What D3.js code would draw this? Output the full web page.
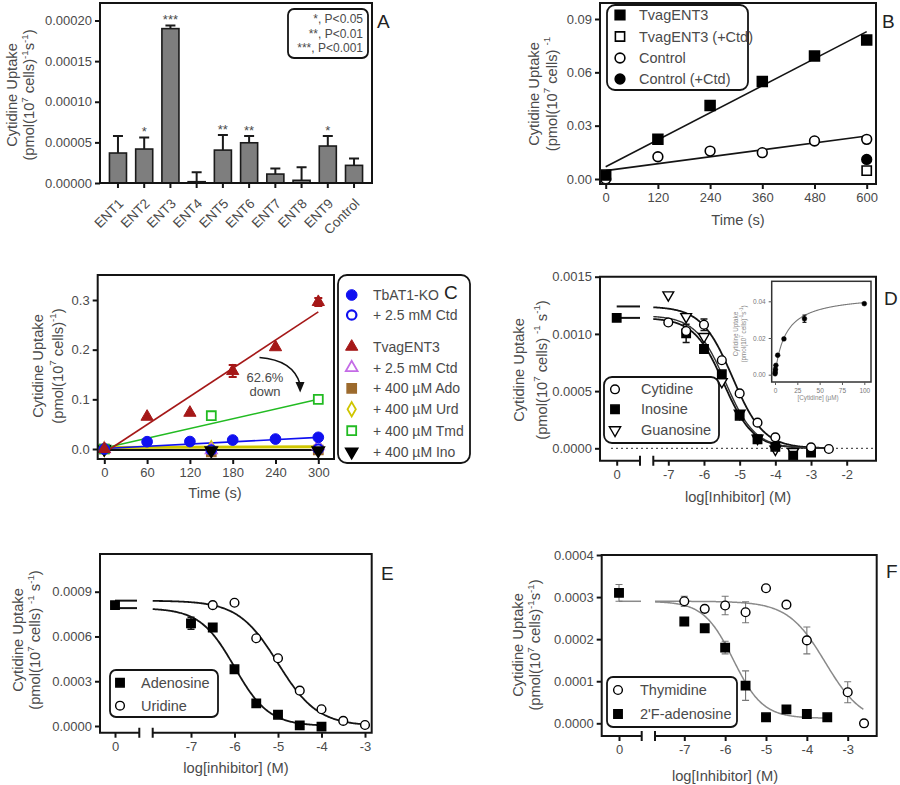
<!DOCTYPE html>
<html><head><meta charset="utf-8">
<script src="https://cdn.jsdelivr.net/npm/d3@7"></script>
<style>body{margin:0;background:#fff}</style>
</head><body>
<script>
// ================= DATA =================
// Panel A
const aCategories = ["ENT1","ENT2","ENT3","ENT4","ENT5","ENT6","ENT7","ENT8","ENT9","Control"];
const aValues = [0.0000369,0.0000418,0.000190,0.0000016,0.0000405,0.0000495,0.0000110,0.0000033,0.0000455,0.0000217];
const aErrors = [0.0000208,0.0000143,0.0000040,0.0000115,0.0000185,0.0000082,0.0000070,0.0000160,0.0000122,0.0000086];
const aStars = ["","*","***","","**","**","","","*",""];
const aYTicks = [0,0.00005,0.0001,0.00015,0.0002];
const aLegend = ["*, P<0.05","**, P<0.01","***, P<0.001"];

// Panel B
const bTime = [0,120,240,360,480,600];
const bTvag = [0.0022,0.0223,0.0414,0.0548,0.0692,0.0782];
const bControl = [0.0000,0.0125,0.0157,0.0148,0.0214,0.0223];
const bControlErr = [0,0,0,0,0.0015,0];
const bCtdTime = [600];
const bTvagCtd = [0.0047];
const bControlCtd = [0.0110];
const bFitTime = [0,600];
const bTvagFit = [0.0069,0.0829];
const bControlFit = [0.0047,0.0242];
const bXTicks = [0,120,240,360,480,600];
const bYTicks = [0,0.03,0.06,0.09];
const bLegend = ["TvagENT3","TvagENT3 (+Ctd)","Control","Control (+Ctd)"];

// Panel C
const cTime = [0,60,120,180,240,300];
const cTbAT1 = [0.0000,0.0147,0.0150,0.0180,0.0200,0.0235];
const cTvag = [0.0000,0.0650,0.0730,0.1570,0.2050,0.2960];
const cTvagErr = [0,0,0,0.0120,0,0.0080];
const cInhTime = [0,150,300];
const cTbCtd = [0.0000,-0.0020,0.0000];
const cTvagCtd = [0.0000,-0.0020,0.0060];
const cAdo = [0.0000,-0.0060,-0.0020];
const cUrd = [0.0000,0.0020,0.0050];
const cTmd = [0.0000,0.0670,0.1000];
const cIno = [0.0000,-0.0030,-0.0030];
const cFitTime = [0,300];
const cTvagFitTime = [8,300];
const cTbAT1Fit = [0.0010,0.0235];
const cTvagFit = [0.0000,0.2760];
const cTmdFit = [0.0020,0.1000];
const cUrdFit = [0.0030,0.0045];
const cInoFit = [-0.0020,-0.0020];
const cXTicks = [0,60,120,180,240,300];
const cYTicks = [0,0.1,0.2,0.3];
const cLegend = ["TbAT1-KO","+ 2.5 mM Ctd","TvagENT3","+ 2.5 mM Ctd","+ 400 \u00b5M Ado","+ 400 \u00b5M Urd","+ 400 \u00b5M Tmd","+ 400 \u00b5M Ino"];

// Panel D  (x = log[Inhibitor]; 0 = no inhibitor)
const dCytX = [-7,-6.5,-6,-5.5,-5,-4.5,-4,-3,-2.5];
const dCyt = [0.00110,0.001025,0.00108,0.00077,0.00048,0.000224,0.000096,0.0000087,-0.000006];
const dCytErr = [0,0,0.00005,0,0,0,0,0,0];
const dInoX = [0,-6.5,-6,-5.5,-5,-4.5,-4,-3.5,-3];
const dIno = [0.00114,0.001005,0.000868,0.000647,0.000285,0.0000787,0.000014,-0.0000647,-0.000038];
const dInoErr = [0.00003,0.00008,0,0,0,0,0,0,0];
const dGuaX = [-7,-6.5,-6,-5.5,-5,-4.5,-4,-3.5];
const dGua = [0.00134,0.00115,0.000976,0.000582,0.000306,0.0000874,-0.0000087,-0.00003];
const dCytFit = [0.00124,0,-5.2,1.0];   // top, bottom, logIC50, hill
const dInoFit = [0.00114,0,-5.45,1.05];
const dGuaFit = [0.00116,0,-5.40,1.05];
const dXTicks = [-7,-6,-5,-4,-3,-2];
const dYTicks = [0,0.0005,0.001,0.0015];
const dLegend = ["Cytidine","Inosine","Guanosine"];
const dInsetConc = [0.1,0.3,0.5,1,3,10,33,100];
const dInsetRate = [0.0005,0.0015,0.0030,0.0051,0.0106,0.0195,0.0305,0.0387];
const dInsetErr = [0,0,0,0,0,0,0.0020,0];
const dInsetFit = [0.044,12]; // Vmax, Km
const dInsetXTicks = [0,25,50,75,100];
const dInsetYTicks = [0,0.02,0.04];

// Panel E
const eAdoX = [0,-7,-6.5,-6,-5.5,-5,-4.5,-4];
const eAdo = [0.00081,0.000688,0.00066,0.00038,0.000152,0.0000757,0.0000045,-0.0000045];
const eAdoErr = [0.00002,0.00004,0.00002,0,0,0,0,0];
const eUriX = [-6.5,-6,-5.5,-5,-4.5,-4,-3.5,-3];
const eUri = [0.00081,0.000826,0.000588,0.000454,0.000237,0.000112,0.000034,0.0000067];
const eAdoFit = [0.00079,0,-6.0,1.1];
const eUriFit = [0.00084,0,-5.0,0.95];
const eXTicks = [-7,-6,-5,-4,-3];
const eYTicks = [0,0.0003,0.0006,0.0009];
const eLegend = ["Adenosine","Uridine"];

// Panel F
const fThyX = [-7,-6.5,-6,-5.5,-5,-4.5,-4,-3,-2.6];
const fThy = [0.00029,0.000272,0.00028,0.000264,0.000321,0.000282,0.000197,0.0000738,0.0];
const fThyErr = [0.000012,0,0.000022,0.000025,0,0,0.000032,0.000025,0];
const fFAdoX = [0,-7,-6.5,-6,-5.5,-5,-4.5,-4,-3.5];
const fFAdo = [0.00031,0.000242,0.000226,0.00018,0.0000895,0.0000143,0.000033,0.000022,0.0000143];
const fFAdoErr = [0.00002,0.000008,0,0.000015,0.000035,0,0.000008,0,0];
const fThyFit = [0.00029,0,-3.55,0.95];
const fFAdoFit = [0.00029,0.000012,-5.8,1.2];
const fXTicks = [-7,-6,-5,-4,-3];
const fYTicks = [0,0.0001,0.0002,0.0003,0.0004];
const fLegend = ["Thymidine","2'F-adenosine"];

// ================= DRAWING =================
const FONT = "Arial, 'Liberation Sans', Helvetica, sans-serif";
const TXT = "#4a4a4a";
const LN = "#141414";
const svg = d3.select("body").append("svg").attr("width",900).attr("height",785)
  .attr("font-family",FONT);

function txt(x,y,s,o={}){
  return svg.append("text").attr("x",x).attr("y",y).text(s)
    .attr("font-size",o.size||13).attr("fill",o.fill||TXT)
    .attr("text-anchor",o.anchor||"start");
}
function styleAxis(g,fs){
  g.select(".domain").remove();
  g.attr("font-family",FONT).attr("font-size",fs);
  g.selectAll(".tick line").attr("stroke",LN).attr("stroke-width",2);
  g.selectAll(".tick text").attr("fill",TXT);
  return g;
}
const fmtPlain = d => String(d);
function yAxis(scale,x,ticks,fmt,fs=13,ts=5){
  return styleAxis(svg.append("g").attr("transform",`translate(${x},0)`)
    .call(d3.axisLeft(scale).tickValues(ticks).tickFormat(fmt).tickSize(ts).tickPadding(3)),fs);
}
function xAxis(scale,y,ticks,fmt,fs=13,ts=5){
  return styleAxis(svg.append("g").attr("transform",`translate(0,${y})`)
    .call(d3.axisBottom(scale).tickValues(ticks).tickFormat(fmt).tickSize(ts).tickPadding(4)),fs);
}
function box(x0,y0,x1,y1,sw=2){
  svg.append("rect").attr("x",x0).attr("y",y0).attr("width",x1-x0).attr("height",y1-y0)
    .attr("fill","none").attr("stroke",LN).attr("stroke-width",sw);
}
function brokenFrame(x0,y0,x1,y1,b1,b2){
  svg.append("path").attr("d",`M${b1},${y1}H${x0}V${y0}H${x1}V${y1}H${b2}`)
    .attr("fill","none").attr("stroke",LN).attr("stroke-width",2);
  svg.append("path").attr("d",`M${b1},${y1-5}V${y1+5}M${b2},${y1-5}V${y1+5}`)
    .attr("stroke",LN).attr("stroke-width",2);
}
function legendBox(x0,y0,x1,y1,r=7){
  svg.append("rect").attr("x",x0).attr("y",y0).attr("width",x1-x0).attr("height",y1-y0)
    .attr("rx",r).attr("fill","#fff").attr("stroke",LN).attr("stroke-width",1.8);
}
function ylabel(x1,x2,cy,parts,fs=14.7){
  svg.append("text").attr("transform",`translate(${x1+0.35*fs},${cy}) rotate(-90)`)
    .attr("text-anchor","middle").attr("font-size",fs).attr("fill",TXT).text("Cytidine Uptake");
  const t = svg.append("text").attr("transform",`translate(${x2+0.35*fs},${cy}) rotate(-90)`)
    .attr("text-anchor","middle").attr("font-size",fs).attr("fill",TXT);
  let prevSup=false;
  parts.forEach(([s,sup])=>{
    const sp = t.append("tspan").text(s).attr("font-size",sup?fs*0.66:fs);
    if(sup && !prevSup) sp.attr("dy",-0.42*fs);
    if(!sup && prevSup) sp.attr("dy",0.42*fs);
    prevSup=sup;
  });
}
const SYM = {sq:d3.symbolSquare, ci:d3.symbolCircle, tri:d3.symbolTriangle, dia:d3.symbolDiamond};
function sym(g,type,x,y,o={}){
  g.append("path").attr("d",d3.symbol().type(SYM[type]).size(o.size||80)())
    .attr("transform",`translate(${x},${y}) rotate(${o.rot||0})`)
    .attr("fill",o.fill===undefined?"#000":o.fill).attr("stroke",o.stroke||"#000")
    .attr("stroke-width",o.sw===undefined?1.5:o.sw);
}
function series(g,xs,ys,xf,yf,type,o){ xs.forEach((v,i)=>sym(g,type,xf(v),yf(ys[i]),o)); }
function errs(g,xs,ys,es,xf,yf,color,cap=4,sw=1.5){
  xs.forEach((v,i)=>{
    if(!es[i]) return;
    const cx=xf(v), a=yf(ys[i]-es[i]), b=yf(ys[i]+es[i]);
    g.append("path").attr("d",`M${cx},${a}V${b}M${cx-cap},${a}H${cx+cap}M${cx-cap},${b}H${cx+cap}`)
      .attr("stroke",color).attr("stroke-width",sw).attr("fill","none");
  });
}
function seg(g,xs,ys,xf,yf,color,sw){
  g.append("path").attr("d",d3.line().x(d=>xf(d[0])).y(d=>yf(d[1]))(xs.map((v,i)=>[v,ys[i]])))
    .attr("fill","none").attr("stroke",color).attr("stroke-width",sw);
}
const hill = (p,x) => p[1] + (p[0]-p[1])/(1+Math.pow(10,(x-p[2])*p[3]));
function curve(g,p,x0,x1,xf,yf,color,sw){
  const xs = d3.range(x0,x1+1e-9,0.02);
  g.append("path").attr("d",d3.line().x(d=>xf(d)).y(d=>yf(hill(p,d)))(xs))
    .attr("fill","none").attr("stroke",color).attr("stroke-width",sw);
}
function legend(x0,y0,x1,y1,r,mx,tx,ys,labels,marks,fs){
  legendBox(x0,y0,x1,y1,r);
  const lg = svg.append("g");
  labels.forEach((s,i)=>{ sym(lg,marks[i][0],mx,ys[i],marks[i][1]); txt(tx,ys[i]+5,s,{size:fs}); });
}
function letter(x,y,s){ txt(x,y,s,{size:19,fill:"#222"}); }

// ---------- Panel A ----------
(function(){
  const g = svg.append("g");
  const x = d3.scaleBand().domain(aCategories).range([100,372]).paddingInner(0.35).paddingOuter(0.36);
  const y = d3.scaleLinear().domain([0,0.0002]).range([183,20.5]);
  g.selectAll("rect").data(aCategories).join("rect")
    .attr("x",d=>x(d)).attr("y",(d,i)=>y(aValues[i])).attr("width",x.bandwidth())
    .attr("height",(d,i)=>y(0)-y(aValues[i]))
    .attr("fill","#7e7e7e").attr("stroke","#1a1a1a").attr("stroke-width",1.6);
  aCategories.forEach((c,i)=>{
    const cx = x(c)+x.bandwidth()/2, yt = y(aValues[i]+aErrors[i]);
    g.append("path").attr("d",`M${cx},${y(aValues[i])}V${yt}M${cx-5},${yt}H${cx+5}`)
      .attr("stroke","#1a1a1a").attr("stroke-width",2).attr("fill","none");
    if(aStars[i]) txt(cx,yt-1,aStars[i],{anchor:"middle",size:13});
  });
  box(100,3,372,183);
  yAxis(y,100,aYTicks,d3.format(".5f"));
  const xa = styleAxis(svg.append("g").attr("transform","translate(0,183)")
    .call(d3.axisBottom(x).tickSize(5)),13.5);
  xa.selectAll(".tick text").attr("y",0).attr("dy","0.35em").attr("text-anchor","end")
    .attr("transform","translate(3,18) rotate(-45)");
  ylabel(12,29,95,[["(pmol(10",0],["7",1],[" cells)",0],["-1",1],["s",0],["-1",1],[")",0]]);
  legendBox(288,9,368,58,6);
  aLegend.forEach((s,i)=>txt(363,23+i*14.5,s,{anchor:"end",size:12}));
  letter(377,28,"A");
})();

// ---------- Panel B ----------
(function(){
  const g = svg.append("g");
  const x = d3.scaleLinear().domain([0,600]).range([605.7,866.7]);
  const y = d3.scaleLinear().domain([0,0.09]).range([179,19]);
  box(600,3,876,184);
  yAxis(y,600,bYTicks,d3.format(".2f"));
  xAxis(x,184,bXTicks,fmtPlain);
  seg(g,bFitTime,bTvagFit,x,y,LN,1.6);
  seg(g,bFitTime,bControlFit,x,y,LN,1.6);
  errs(g,bTime,bControl,bControlErr,x,y,LN,4,1.5);
  series(g,bTime,bControl,x,y,"ci",{size:75,fill:"#fff",sw:1.6});
  series(g,bTime,bTvag,x,y,"sq",{size:100});
  series(g,bCtdTime,bTvagCtd,x,y,"sq",{size:85,fill:"#fff",sw:1.6});
  series(g,bCtdTime,bControlCtd,x,y,"ci",{size:75});
  legend(607,5,748,90,8,620,639,[15,36.5,58,79],bLegend,
    [["sq",{size:95}],["sq",{size:85,fill:"#fff",sw:1.6}],["ci",{size:75,fill:"#fff",sw:1.6}],["ci",{size:75}]],14.5);
  ylabel(533.5,551.5,94,[["(pmol(10",0],["7",1],[" cells) ",0],["-1",1]]);
  txt(738,225,"Time (s)",{anchor:"middle",size:14.7});
  letter(882,28,"B");
})();

// ---------- Panel C ----------
(function(){
  const g = svg.append("g");
  const x = d3.scaleLinear().domain([0,300]).range([104.3,318.3]);
  const y = d3.scaleLinear().domain([0,0.3]).range([449,300]);
  const BLUE="#1010f0", RED="#a51818", PURP="#c46be6", BROWN="#9c6a2c", YEL="#cfc600", GREEN="#22bb22";
  box(97.7,275,334,459);
  yAxis(y,97.7,cYTicks,d3.format(".1f"));
  xAxis(x,459,cXTicks,fmtPlain);
  seg(g,cFitTime,cUrdFit,x,y,YEL,3);
  seg(g,cFitTime,cInoFit,x,y,"#111",2.2);
  seg(g,cFitTime,cTbAT1Fit,x,y,BLUE,1.6);
  seg(g,cFitTime,cTmdFit,x,y,GREEN,1.6);
  seg(g,cTvagFitTime,cTvagFit,x,y,RED,1.6);
  series(g,cInhTime,cAdo,x,y,"sq",{size:85,fill:BROWN,stroke:BROWN});
  series(g,cInhTime,cUrd,x,y,"dia",{size:55,fill:"#fff",stroke:YEL,sw:1.8});
  series(g,cInhTime,cTvagCtd,x,y,"tri",{size:55,fill:"#fff",stroke:PURP,sw:1.8});
  series(g,cInhTime,cTbCtd,x,y,"ci",{size:70,fill:"#fff",stroke:BLUE,sw:2.2});
  series(g,cInhTime,cIno,x,y,"tri",{size:65,rot:180});
  series(g,cInhTime,cTmd,x,y,"sq",{size:80,fill:"#fff",stroke:GREEN,sw:1.8});
  series(g,cTime,cTbAT1,x,y,"ci",{size:90,fill:BLUE,stroke:BLUE,sw:1});
  errs(g,cTime,cTvag,cTvagErr,x,y,RED,4,2);
  series(g,cTime,cTvag,x,y,"tri",{size:65,fill:RED,stroke:RED,sw:1});
  // arrow annotation
  g.append("path").attr("d","M259.5,357.5 Q293,360 300,384").attr("fill","none").attr("stroke","#111").attr("stroke-width",1.6);
  g.append("path").attr("d","M295.5,382 L304.5,382 L300.2,392.5 Z").attr("fill","#111");
  txt(265,382,"62.6%",{anchor:"middle",size:13});
  txt(265,396,"down",{anchor:"middle",size:13});
  legend(338,275,470,463,9,351.7,373,[295,315,346.7,367.7,388.3,409.3,430.7,451.7],cLegend,
    [["ci",{size:90,fill:BLUE,stroke:BLUE,sw:1}],["ci",{size:70,fill:"#fff",stroke:BLUE,sw:2.2}],
     ["tri",{size:65,fill:RED,stroke:RED,sw:1}],["tri",{size:60,fill:"#fff",stroke:PURP,sw:1.8}],
     ["sq",{size:85,fill:BROWN,stroke:BROWN}],["dia",{size:60,fill:"#fff",stroke:YEL,sw:1.8}],
     ["sq",{size:80,fill:"#fff",stroke:GREEN,sw:1.8}],["tri",{size:65,rot:180}]],14);
  ylabel(37.5,57.5,366,[["(pmol(10",0],["7",1],[" cells)",0],["-1",1],[")",0]]);
  txt(215,498,"Time (s)",{anchor:"middle",size:14.7});
  letter(444,299,"C");
})();

// ---------- Panel D ----------
(function(){
  const g = svg.append("g");
  const xl = d3.scaleLinear().domain([-7,-2]).range([668.3,846.7]);
  const x0 = d3.scaleLinear().domain([-1,1]).range([596.7,636.7]);
  const xf = v => v===0 ? x0(0) : xl(v);
  const y = d3.scaleLinear().domain([0,0.0015]).range([448.3,276.7]);
  brokenFrame(600,276.7,876,460.7,640,653.3);
  yAxis(y,600,dYTicks,d3.format(".4f"));
  xAxis(xl,460.7,dXTicks,fmtPlain);
  xAxis(x0,460.7,[0],fmtPlain);
  g.append("line").attr("x1",611).attr("x2",875).attr("y1",y(0)).attr("y2",y(0))
    .attr("stroke","#555").attr("stroke-width",1.3).attr("stroke-dasharray","2,3");
  [dCytFit,dInoFit].forEach(p=>g.append("line").attr("x1",x0(0)).attr("x2",640)
    .attr("y1",y(p[0])).attr("y2",y(p[0])).attr("stroke",LN).attr("stroke-width",2));
  const lo = xl.invert(653.3);
  curve(g,dCytFit,lo,-2.6,xl,y,LN,1.8);
  curve(g,dInoFit,lo,-2.6,xl,y,LN,1.8);
  curve(g,dGuaFit,lo,-2.6,xl,y,"#333",1.4);
  errs(g,dCytX,dCyt,dCytErr,xf,y,LN,3.5,1.5);
  errs(g,dInoX,dIno,dInoErr,xf,y,LN,3.5,1.5);
  series(g,dGuaX,dGua,xf,y,"tri",{size:50,fill:"#fff",rot:180,sw:1.4});
  series(g,dInoX,dIno,xf,y,"sq",{size:70});
  series(g,dCytX,dCyt,xf,y,"ci",{size:60,fill:"#fff",sw:1.4});
  legend(604,377,719,443,8,615,641,[389.3,409.3,430],dLegend,
    [["ci",{size:60,fill:"#fff",sw:1.4}],["sq",{size:70}],["tri",{size:55,fill:"#fff",rot:180,sw:1.4}]],14.5);
  ylabel(519,541.5,370,[["(pmol(10",0],["7",1],[" cells) ",0],["-1",1],[" s",0],["-1",1],[")",0]]);
  txt(738,502,"log[Inhibitor] (M)",{anchor:"middle",size:14.7});
  letter(884,305,"D");
  // inset
  const ix = d3.scaleLinear().domain([0,100]).range([775,864.3]);
  const iy = d3.scaleLinear().domain([0,0.04]).range([374.7,301.3]);
  svg.append("rect").attr("x",771.7).attr("y",281.3).attr("width",99.3).attr("height",100.7)
    .attr("fill","#fff").attr("stroke","#333").attr("stroke-width",1.5);
  const ig = svg.append("g");
  const iya = yAxis(iy,771.7,dInsetYTicks,d3.format(".2f"),6.5,3);
  const ixa = xAxis(ix,382,dInsetXTicks,fmtPlain,6.5,3);
  [iya,ixa].forEach(a=>{a.selectAll(".tick line").attr("stroke-width",1).attr("stroke","#555");
    a.selectAll(".tick text").attr("fill","#777");});
  ixa.selectAll(".tick text").attr("dy","0.6em");
  const mm = d3.range(0,100.01,0.5);
  ig.append("path").attr("d",d3.line().x(d=>ix(d)).y(d=>iy(dInsetFit[0]*d/(dInsetFit[1]+d)))(mm))
    .attr("fill","none").attr("stroke","#777").attr("stroke-width",1.1);
  errs(ig,dInsetConc,dInsetRate,dInsetErr,ix,iy,"#222",2,1.2);
  series(ig,dInsetConc,dInsetRate,ix,iy,"ci",{size:18,sw:0.5});
  const it = svg.append("g").attr("fill","#888").attr("font-size",6.3);
  it.append("text").attr("transform","translate(738,334) rotate(-90)").attr("text-anchor","middle").text("Cytidine Uptake");
  const t2 = it.append("text").attr("transform","translate(745.5,334) rotate(-90)").attr("text-anchor","middle");
  t2.append("tspan").text("(pmol(10");
  t2.append("tspan").text("7").attr("font-size",4.5).attr("dy",-2.5);
  t2.append("tspan").text(" cells)").attr("dy",2.5);
  t2.append("tspan").text("-1").attr("font-size",4.5).attr("dy",-2.5);
  t2.append("tspan").text("s").attr("dy",2.5);
  t2.append("tspan").text("-1").attr("font-size",4.5).attr("dy",-2.5);
  t2.append("tspan").text(")").attr("dy",2.5);
  it.append("text").attr("x",818).attr("y",400).attr("text-anchor","middle").text("[Cytidine] (\u00b5M)");
})();

// ---------- Panel E ----------
(function(){
  const g = svg.append("g");
  const xl = d3.scaleLinear().domain([-7,-3]).range([191,365]);
  const x0 = d3.scaleLinear().domain([-1,1]).range([95,135]);
  const xf = v => v===0 ? x0(0) : xl(v);
  const y = d3.scaleLinear().domain([0,0.0009]).range([726,591.7]);
  brokenFrame(100,554,371.7,732.7,139.3,152.7);
  yAxis(y,100,eYTicks,d3.format(".4f"));
  xAxis(xl,732.7,eXTicks,fmtPlain);
  xAxis(x0,732.7,[0],fmtPlain);
  [eUriFit,eAdoFit].forEach(p=>g.append("line").attr("x1",x0(0)).attr("x2",137)
    .attr("y1",y(p[0])).attr("y2",y(p[0])).attr("stroke",LN).attr("stroke-width",2));
  const lo = xl.invert(152.7);
  curve(g,eAdoFit,lo,-4,xl,y,LN,1.8);
  curve(g,eUriFit,lo,-3,xl,y,LN,1.8);
  errs(g,eAdoX,eAdo,eAdoErr,xf,y,LN,3.5,1.5);
  series(g,eUriX,eUri,xf,y,"ci",{size:60,fill:"#fff",sw:1.4});
  series(g,eAdoX,eAdo,xf,y,"sq",{size:70});
  legend(110,670,218,717,6,120,141,[682.7,705.7],eLegend,
    [["sq",{size:70}],["ci",{size:60,fill:"#fff",sw:1.4}]],14.5);
  ylabel(18,35,640,[["(pmol(10",0],["7",1],[" cells) ",0],["-1",1],[" s",0],["-1",1],[")",0]]);
  txt(236,773,"log[inhibitor] (M)",{anchor:"middle",size:14.7});
  letter(381,580,"E");
})();

// ---------- Panel F ----------
(function(){
  const g = svg.append("g");
  const xl = d3.scaleLinear().domain([-7,-3]).range([684.3,847.7]);
  const x0 = d3.scaleLinear().domain([-1,1]).range([599,639]);
  const xf = v => v===0 ? x0(0) : xl(v);
  const y = d3.scaleLinear().domain([0,0.0004]).range([723.3,555]);
  const GREY="#8a8a8a";
  brokenFrame(601.7,555,876.7,736,641.7,655);
  yAxis(y,601.7,fYTicks,d3.format(".4f"));
  xAxis(xl,736,fXTicks,fmtPlain);
  xAxis(x0,736,[0],fmtPlain);
  g.append("line").attr("x1",x0(0)).attr("x2",641).attr("y1",y(fThyFit[0])).attr("y2",y(fThyFit[0]))
    .attr("stroke",GREY).attr("stroke-width",1.5);
  const lo = xl.invert(655);
  curve(g,fThyFit,lo,-2.6,xl,y,GREY,1.5);
  curve(g,fFAdoFit,lo,-3.5,xl,y,GREY,1.5);
  errs(g,fThyX,fThy,fThyErr,xf,y,"#777",3.5,1.1);
  errs(g,fFAdoX,fFAdo,fFAdoErr,xf,y,"#777",3.5,1.1);
  series(g,fThyX,fThy,xf,y,"ci",{size:60,fill:"#fff",sw:1.4});
  series(g,fFAdoX,fFAdo,xf,y,"sq",{size:70});
  legend(607,677,737,727,6,618,640,[690,714],fLegend,
    [["ci",{size:60,fill:"#fff",sw:1.4}],["sq",{size:70}]],14.5);
  ylabel(518,535,645,[["(pmol(10",0],["7",1],[" cells)",0],["-1",1],["s",0],["-1",1],[")",0]]);
  txt(725,781,"log[Inhibitor] (M)",{anchor:"middle",size:14.7});
  letter(886,578,"F");
})();
</script>
</body></html>
